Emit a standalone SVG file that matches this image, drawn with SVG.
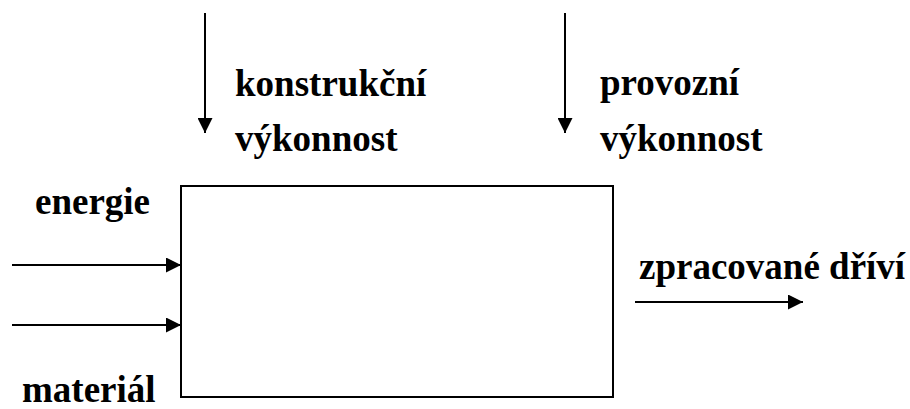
<svg xmlns="http://www.w3.org/2000/svg" width="910" height="409" viewBox="0 0 910 409">
<style>
.t{font-family:"Liberation Serif","Times New Roman",serif;font-weight:bold;font-size:37px;fill:#000}
.c{stroke:#000;stroke-width:2;fill:none}
</style>
<defs>
<marker id="ah" viewBox="0 0 15 15" refX="15" refY="7.5" markerWidth="15" markerHeight="15" markerUnits="userSpaceOnUse" orient="auto">
<path d="M0,0 L15,7.5 L0,15 Z" fill="#000"/>
</marker>
</defs>
<rect width="910" height="409" fill="#fff"/>
<g id="process">
<rect x="181" y="186" width="432" height="211" fill="#fff" stroke="#000" stroke-width="2"/>
</g>
<g id="connectors">
<line class="c" x1="205" y1="13" x2="205" y2="133" marker-end="url(#ah)"/>
<line class="c" x1="565" y1="13" x2="565" y2="133" marker-end="url(#ah)"/>
<line class="c" x1="12" y1="265" x2="181" y2="265" marker-end="url(#ah)"/>
<line class="c" x1="12" y1="325" x2="181" y2="325" marker-end="url(#ah)"/>
<line class="c" x1="635" y1="302" x2="803" y2="302" marker-end="url(#ah)"/>
</g>
<g id="labels">
<text class="t" x="235" y="96">konstrukční</text>
<text class="t" x="235" y="151">výkonnost</text>
<text class="t" x="600" y="95">provozní</text>
<text class="t" x="600" y="151">výkonnost</text>
<text class="t" x="35" y="214">energie</text>
<text class="t" x="22" y="402">materiál</text>
<text class="t" x="639" y="279">zpracované dříví</text>
</g>
</svg>
